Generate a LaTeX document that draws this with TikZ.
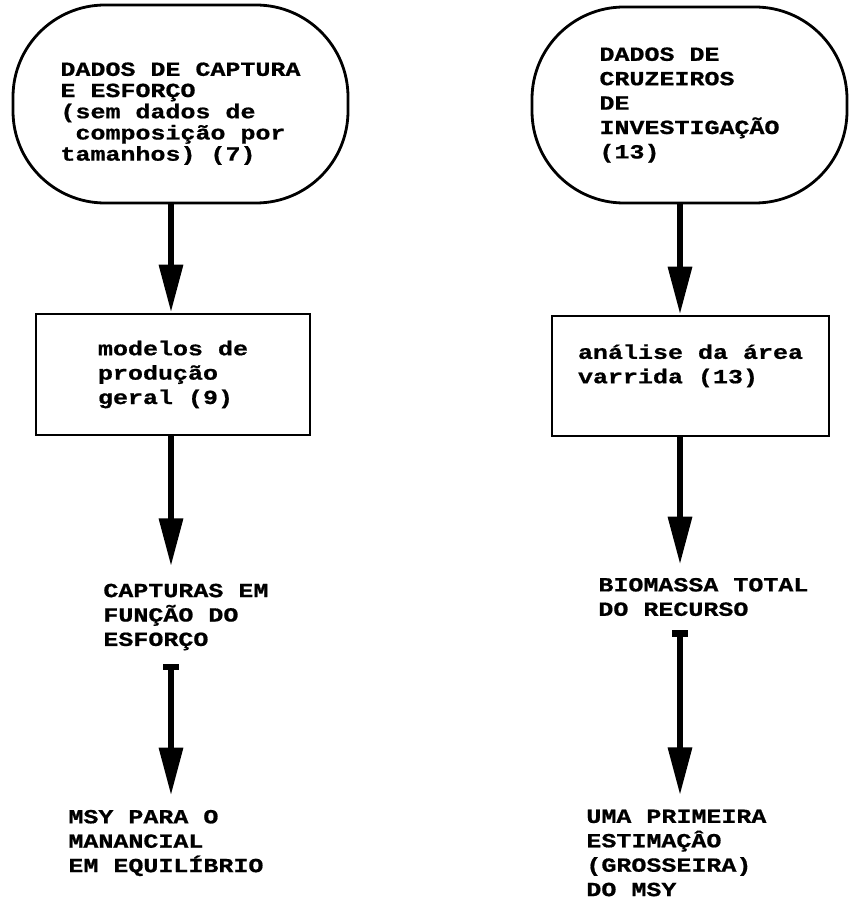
\documentclass[tikz,border=0pt]{standalone}
\usepackage{fontspec}
\usepackage{tikz}
\usetikzlibrary{arrows.meta}
\newfontfamily\typew[FakeStretch=1.25, BoldFeatures={FakeBold=0.8}]{Liberation Mono}

\begin{document}
\begin{tikzpicture}[x=0.5pt, y=-0.5pt,
    every node/.style={font=\typew\bfseries\fontsize{10pt}{12.2pt}\selectfont, align=left},
    every path/.style={line width=1.4pt},
    blob/.style={draw, rectangle, rounded corners=46pt},
    stepbox/.style={draw, rectangle},
    plain/.style={inner sep=0pt, anchor=west},
    arr/.style={line width=3.2pt, -{Triangle[length=24pt, width=11.5pt]}},
    bararr/.style={line width=3.2pt, {Bar[width=8pt]}-{Triangle[length=24pt, width=11.5pt]}}]
    \useasboundingbox (0,0) rectangle (848,904);

    \coordinate (lx) at (171,0);
    \coordinate (rx) at (680,0);

    % sources
    \node[blob, minimum width=167.5pt, minimum height=99pt, font=\typew\bfseries\fontsize{10pt}{10.6pt}\selectfont] (capt) at (180.5,104)
        {\raisebox{-5pt}[\height][\depth]{\begin{tabular}{@{}l@{}}DADOS DE CAPTURA\\E ESFORÇO\\(sem dados de\\\ composição por\\tamanhos) (7)\end{tabular}}};
    \node[blob, minimum width=157.5pt, minimum height=98pt] (cruz) at (689.5,105) {DADOS DE\\CRUZEIROS\\DE\\INVESTIGAÇÃO\\(13)};

    % methods
    \node[stepbox, minimum width=137pt, minimum height=60.5pt] (prod) at (173,374.5) {modelos de\\produção\\geral (9)};
    \node[stepbox, minimum width=138.5pt, minimum height=60pt] (area) at (690.5,376) {análise da área\\varrida (13)\\\mbox{}};

    % results
    \node[plain] (func) at (102,617) {CAPTURAS EM\\FUNÇÃO DO\\ESFORÇO};
    \node[plain] (msy) at (67,843) {MSY PARA O\\MANANCIAL\\EM EQUILÍBRIO};
    \node[plain] (biom) at (597,597) {BIOMASSA TOTAL\\DO RECURSO};
    \node[plain] (first) at (585,853) {UMA PRIMEIRA\\ESTIMAÇÂO\\(GROSSEIRA)\\DO MSY};

    \draw[arr] (capt.south -| lx) to (prod.north -| lx);
    \draw[arr, shorten >=8pt] (prod.south -| lx) to (func.north -| lx);
    \draw[bararr, shorten <=6pt, shorten >=6.5pt] (func.south -| lx) to (msy.north -| lx);
    \draw[arr] (cruz.south -| rx) to (area.north -| rx);
    \draw[arr, shorten >=6pt] (area.south -| rx) to (biom.north -| rx);
    \draw[bararr, shorten <=6.5pt, shorten >=6.5pt] (biom.south -| rx) to (first.north -| rx);
\end{tikzpicture}
\end{document}
